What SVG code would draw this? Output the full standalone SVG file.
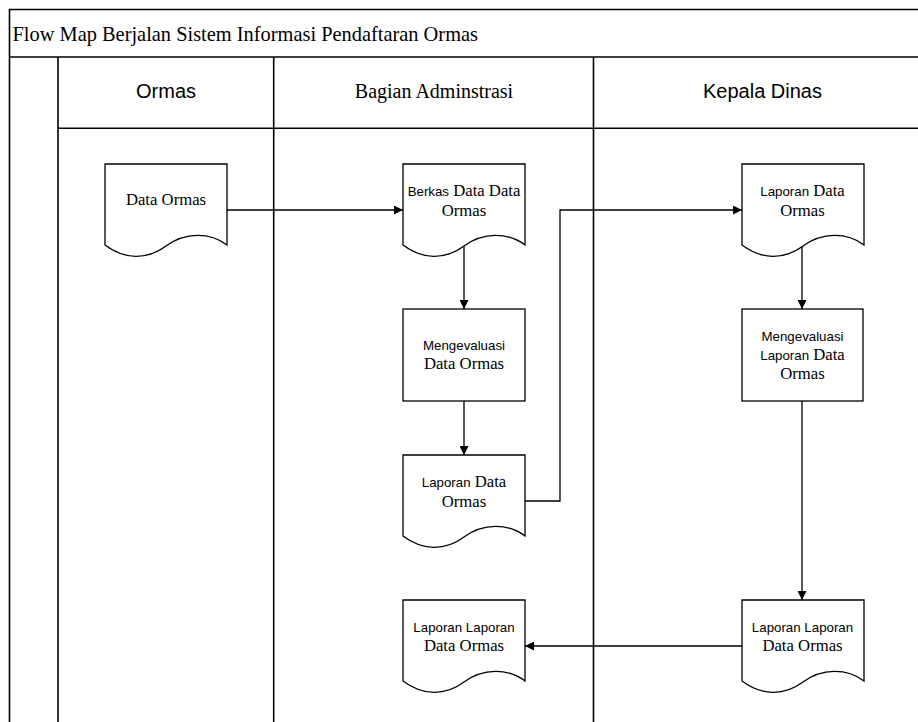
<svg xmlns="http://www.w3.org/2000/svg" width="918" height="722" viewBox="0 0 918 722">
<style>
.frame{fill:none;stroke:#000;stroke-width:1.6}
.shape{fill:#fff;stroke:#000;stroke-width:1.3}
.conn{fill:none;stroke:#000;stroke-width:1.3}
.s{font-family:"Liberation Sans",Arial,sans-serif}
.r{font-family:"Liberation Serif","Times New Roman",serif}
.t{font-size:16.7px;fill:#000;text-anchor:middle}
.ts{font-size:13.3px}
.hd{font-size:20px;fill:#000;text-anchor:middle}
</style>
<defs>
<marker id="arr" viewBox="0 0 10 10" refX="10" refY="5" markerWidth="10" markerHeight="9" markerUnits="userSpaceOnUse" orient="auto">
<path d="M0,0 L10,5 L0,10 Z" fill="#000"/>
</marker>
<path id="doc" d="M0,0 H122 V81 C105,68 80,68 61,82 C42,96 20,96 0,81 Z"/>
</defs>
<rect width="918" height="722" fill="#fff"/>
<g id="pool">
<path class="frame" d="M9.5,722 V9.5 H920 M9.5,57 H920 M58,57 V722 M273.7,57 V722 M593.5,57 V722 M58,128.3 H920"/>
<text class="r" x="12.5" y="41" font-size="20.4px">Flow Map Berjalan Sistem Informasi Pendaftaran Ormas</text>
<text class="s hd" x="166" y="98">Ormas</text>
<text class="r hd" x="434" y="98">Bagian Adminstrasi</text>
<text class="s hd" x="762.5" y="98">Kepala Dinas</text>
</g>
<g id="connectors">
<path class="conn" d="M227,210 H403" marker-end="url(#arr)"/>
<path class="conn" d="M464,246 V309" marker-end="url(#arr)"/>
<path class="conn" d="M464,401 V455" marker-end="url(#arr)"/>
<path class="conn" d="M525,501 H560 V210 H742" marker-end="url(#arr)"/>
<path class="conn" d="M802,246 V309" marker-end="url(#arr)"/>
<path class="conn" d="M802,401 V600" marker-end="url(#arr)"/>
<path class="conn" d="M742,646 H525" marker-end="url(#arr)"/>
</g>
<g id="n1">
<use href="#doc" class="shape" x="105" y="164"/>
<text class="r t" x="166" y="205">Data Ormas</text>
</g>
<g id="n2">
<use href="#doc" class="shape" x="403" y="164"/>
<text class="t" x="464" y="196"><tspan class="s ts">Berkas</tspan><tspan class="r"> Data Data</tspan></text>
<text class="r t" x="464" y="216">Ormas</text>
</g>
<g id="n3">
<rect class="shape" x="403" y="309" width="122" height="92"/>
<text class="s t ts" x="464" y="350">Mengevaluasi</text>
<text class="r t" x="464" y="369">Data Ormas</text>
</g>
<g id="n4">
<use href="#doc" class="shape" x="403" y="455"/>
<text class="t" x="464" y="487"><tspan class="s ts">Laporan</tspan><tspan class="r"> Data</tspan></text>
<text class="r t" x="464" y="507">Ormas</text>
</g>
<g id="n5">
<use href="#doc" class="shape" x="742" y="164"/>
<text class="t" x="802.5" y="196"><tspan class="s ts">Laporan</tspan><tspan class="r"> Data</tspan></text>
<text class="r t" x="802.5" y="216">Ormas</text>
</g>
<g id="n6">
<rect class="shape" x="742" y="309" width="121" height="92"/>
<text class="s t ts" x="802.5" y="341">Mengevaluasi</text>
<text class="t" x="802.5" y="360"><tspan class="s ts">Laporan</tspan><tspan class="r"> Data</tspan></text>
<text class="r t" x="802.5" y="379">Ormas</text>
</g>
<g id="n7">
<use href="#doc" class="shape" x="742" y="600"/>
<text class="s t ts" x="802.5" y="632">Laporan Laporan</text>
<text class="r t" x="802.5" y="651">Data Ormas</text>
</g>
<g id="n8">
<use href="#doc" class="shape" x="403" y="600"/>
<text class="s t ts" x="464" y="632">Laporan Laporan</text>
<text class="r t" x="464" y="651">Data Ormas</text>
</g>
</svg>
